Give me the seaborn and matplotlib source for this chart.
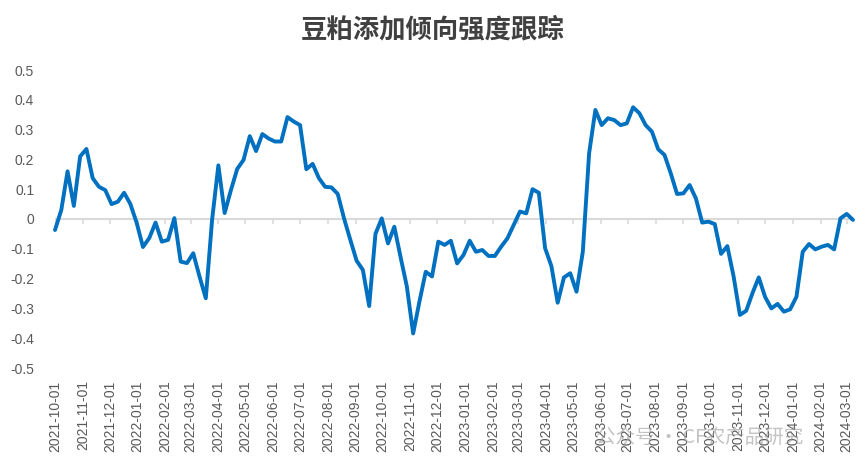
import pandas as pd
import seaborn as sns
import matplotlib.pyplot as plt

# weekly readings
values = [
    -0.037, 0.03, 0.16, 0.044, 0.21, 0.235, 0.137, 0.108, 0.097, 0.05,
    0.058, 0.088, 0.05, -0.013, -0.094, -0.064, -0.012, -0.076, -0.07, 0.003,
    -0.143, -0.148, -0.115, -0.193, -0.266, -0.003, 0.18, 0.02, 0.097, 0.168,
    0.198, 0.278, 0.228, 0.285, 0.27, 0.26, 0.26, 0.342, 0.327, 0.315,
    0.167, 0.185, 0.137, 0.108, 0.106, 0.084, 0.002, -0.07, -0.14, -0.171,
    -0.292, -0.05, 0.002, -0.082, -0.026, -0.128, -0.227, -0.384, -0.277, -0.177,
    -0.193, -0.076, -0.087, -0.073, -0.149, -0.121, -0.073, -0.11, -0.104, -0.124,
    -0.124, -0.093, -0.065, -0.02, 0.025, 0.019, 0.1, 0.088, -0.098, -0.158,
    -0.281, -0.196, -0.182, -0.244, -0.11, 0.22, 0.366, 0.315, 0.338, 0.332,
    0.315, 0.321, 0.375, 0.355, 0.315, 0.293, 0.234, 0.215, 0.153, 0.084,
    0.086, 0.114, 0.069, -0.012, -0.009, -0.017, -0.117, -0.091, -0.193, -0.322,
    -0.308, -0.249, -0.196, -0.261, -0.3, -0.285, -0.311, -0.303, -0.261, -0.11,
    -0.084, -0.102, -0.093, -0.087, -0.102, 0.002, 0.017, -0.003,
]
start_date = '2021-10-01'
tick_dates = pd.date_range('2021-10-01', '2024-03-01', freq='MS')
y_ticks = [-0.5, -0.4, -0.3, -0.2, -0.1, 0, 0.1, 0.2, 0.3, 0.4, 0.5]
title = '豆粕添加倾向强度跟踪'
watermark = '公众号 · CF农产品研究'

df = pd.DataFrame({'date': pd.date_range(start_date, periods=len(values), freq='7D'),
                   'value': values})

sns.set_style('white')
plt.rcParams['font.family'] = ['Liberation Sans', 'Noto Sans CJK SC', 'DejaVu Sans']

fig = plt.figure(figsize=(8.65, 4.74), dpi=100)
ax = fig.add_axes([55 / 865, (474 - 368) / 474, (853 - 55) / 865, 298 / 474])

# zero line acts as the category axis, with small ticks hanging below it
ax.axhline(0, color='#d9d9d9', lw=1.5, zorder=1)
ax.vlines(tick_dates, -0.017, 0, color='#d9d9d9', lw=1.2, zorder=1)

sns.lineplot(data=df, x='date', y='value', ax=ax, color='#0070c0',
             linewidth=2.8, zorder=3, clip_on=False)

ax.set_xlim(df['date'].iloc[0], df['date'].iloc[-1])
ax.set_ylim(-0.5, 0.5)
ax.set_yticks(y_ticks)
ax.set_yticklabels(['0' if v == 0 else f'{v:.1f}' for v in y_ticks])
ax.set_xticks(tick_dates)
ax.set_xticklabels([d.strftime('%Y-%m-%d') for d in tick_dates], rotation=90)
ax.tick_params(axis='y', length=0, pad=15, labelsize=10, labelcolor='#595959')
ax.tick_params(axis='x', length=0, pad=9, labelsize=10, labelcolor='#595959')
ax.set_xlabel('')
ax.set_ylabel('')
for s in ax.spines.values():
    s.set_visible(False)

fig.text(0.5, 1 - 30 / 474, title, ha='center', va='center', fontsize=19,
         fontweight='bold', color='#404040', family=['Noto Sans CJK SC', 'DejaVu Sans'])
fig.text(700 / 865, 1 - 437 / 474, watermark, ha='center', va='center', fontsize=14,
         color='#9a9a9a', alpha=0.6, family=['Noto Sans CJK SC', 'DejaVu Sans'])

fig.savefig('out.png', dpi=100)
